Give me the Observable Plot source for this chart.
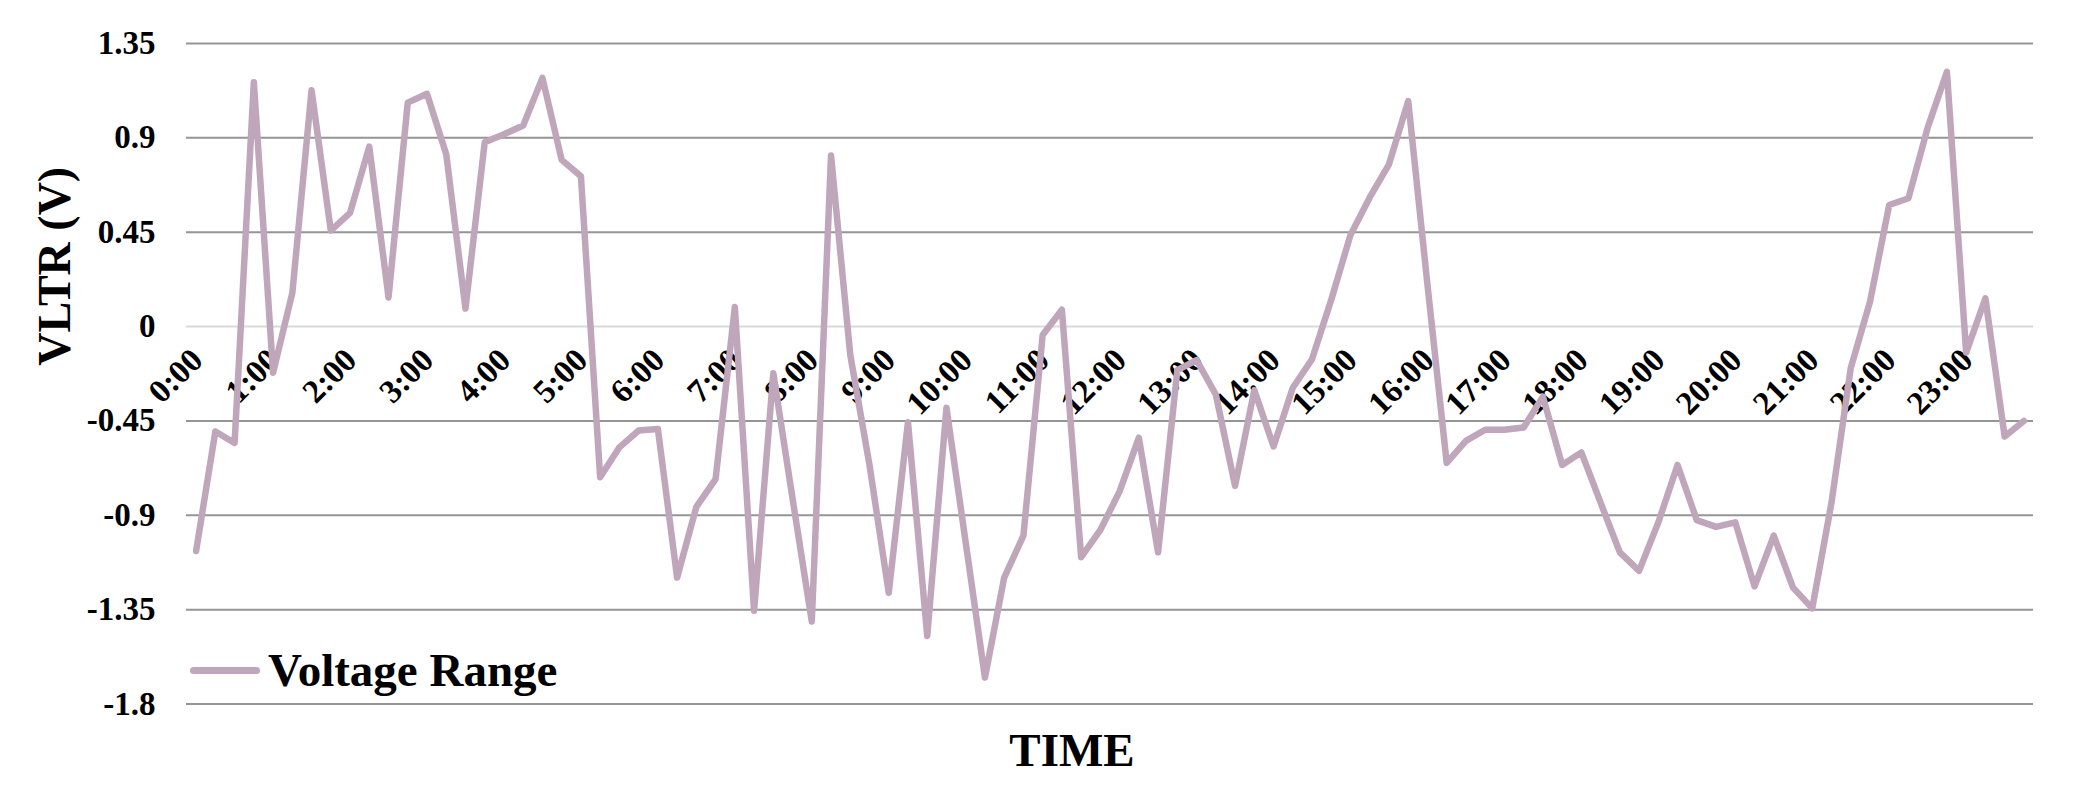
<!DOCTYPE html>
<html><head><meta charset="utf-8">
<script src="https://cdn.jsdelivr.net/npm/d3@7"></script>
<script src="https://cdn.jsdelivr.net/npm/@observablehq/plot@0.6"></script>
<style>
body{margin:0;background:#fff;}
#wrap{position:relative;width:2094px;height:798px;}
#legend{position:absolute;left:190px;top:644px;display:flex;align-items:center;font-family:"Liberation Serif","Times New Roman",serif;font-weight:bold;font-size:47px;line-height:52px;color:#000;}
#legend .sw{display:inline-block;width:70px;height:7px;border-radius:3.5px;background:#c0a6ba;margin-right:8px;}
</style></head><body>
<div id="wrap"><div id="legend"><span class="sw"></span><span id="legendText"></span></div></div>
<script>
// 15-minute slots, 0:00 .. 23:45 (index 0..95)
const values = [
  -1.07, -0.50, -0.555, 1.165, -0.22, 0.16, 1.127, 0.458,
  0.542, 0.858, 0.139, 1.068, 1.11, 0.822, 0.086, 0.879,
  0.917, 0.959, 1.186, 0.795, 0.717, -0.719, -0.576, -0.496,
  -0.488, -1.197, -0.86, -0.728, 0.093, -1.355, -0.223, -0.82,
  -1.407, 0.816, -0.135, -0.66, -1.27, -0.456, -1.476, -0.387,
  -1.03, -1.674, -1.197, -0.997, -0.04, 0.08, -1.10, -0.97,
  -0.786, -0.53, -1.077, -0.208, -0.16, -0.324, -0.76, -0.303,
  -0.572, -0.292, -0.156, 0.128, 0.437, 0.616, 0.774, 1.075,
  0.2, -0.65, -0.545, -0.492, -0.492, -0.481, -0.334, -0.66,
  -0.60, -0.84, -1.077, -1.165, -0.934, -0.66, -0.923, -0.955,
  -0.934, -1.239, -0.997, -1.245, -1.344, -0.84, -0.198, 0.118,
  0.58, 0.612, 0.949, 1.215, -0.124, 0.135, -0.524, -0.45
];
const hourLabels = ["0:00","1:00","2:00","3:00","4:00","5:00","6:00","7:00","8:00","9:00","10:00","11:00",
  "12:00","13:00","14:00","15:00","16:00","17:00","18:00","19:00","20:00","21:00","22:00","23:00"];
const slotsPerHour = 4;
const yTicks = [1.35, 0.9, 0.45, 0, -0.45, -0.9, -1.35, -1.8];
const seriesName = "Voltage Range";
const xTitle = "TIME";
const yTitle = "VLTR (V)";
const lineColor = "#c0a6ba";

const data = values.map((v, i) => ({slot: i, v}));
const hourTicks = hourLabels.map((label, h) => ({slot: h * slotsPerHour, label}));
const font = '"Liberation Serif","Times New Roman",serif';

document.getElementById("legendText").textContent = seriesName;

const chart = Plot.plot({
  width: 2094, height: 798,
  marginLeft: 186, marginRight: 61, marginTop: 43, marginBottom: 94.5,
  style: {fontFamily: font, background: "white", color: "#000"},
  x: {domain: [-0.5, values.length - 0.5], axis: null},
  y: {domain: [-1.8, 1.35], axis: null},
  marks: [
    Plot.gridY(yTicks.filter(d => d !== 0), {stroke: "#959595", strokeOpacity: 1, strokeWidth: 2}),
    Plot.gridY([0], {stroke: "#d9d9d9", strokeOpacity: 1, strokeWidth: 2}),
    Plot.axisY(yTicks, {tickSize: 0, tickPadding: 31, fontSize: 33, fontWeight: "bold", tickFormat: d => String(d), label: null}),
    Plot.text(hourTicks, {x: "slot", y: () => 0, text: "label", rotate: -45, textAnchor: "end", dx: 1, dy: 28, fontSize: 33, fontWeight: "bold", fill: "#000"}),
    Plot.line(data, {x: "slot", y: "v", stroke: lineColor, strokeWidth: 6.5, strokeLinejoin: "round", strokeLinecap: "round"}),
    Plot.text([yTitle], {frameAnchor: "left", rotate: -90, dx: -131, dy: -8, fontSize: 46, fontWeight: "bold", fill: "#000"}),
    Plot.text([xTitle], {frameAnchor: "bottom", dx: -38, dy: 62, fontSize: 47, fontWeight: "bold", fill: "#000"})
  ]
});
document.getElementById("wrap").prepend(chart);
</script>
</body></html>
